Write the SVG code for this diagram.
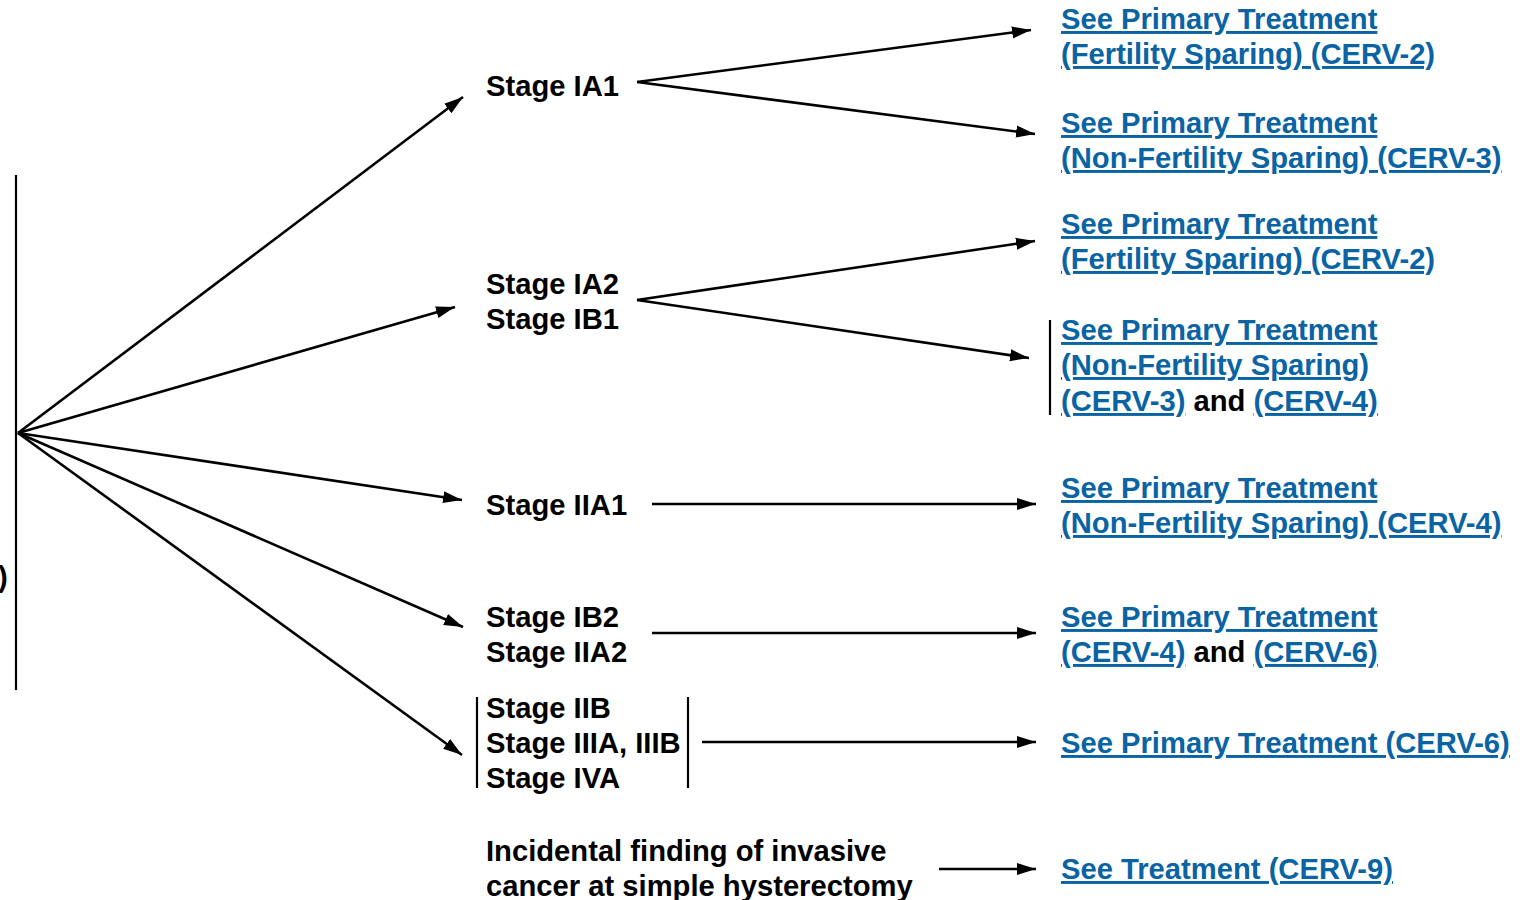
<svg xmlns="http://www.w3.org/2000/svg" width="1529" height="900" viewBox="0 0 1529 900">
<style>
.t{font-family:"Liberation Sans",Arial,sans-serif;font-weight:bold;font-size:29.2px;fill:#000}
.l{font-family:"Liberation Sans",Arial,sans-serif;font-weight:bold;font-size:29.2px;fill:#0a64a4;text-decoration:underline}
.c{stroke:#000;stroke-width:2.6;fill:none}
.b{stroke:#000;stroke-width:2.2;fill:none}
</style>
<defs>
<marker id="ah" markerUnits="userSpaceOnUse" markerWidth="22" markerHeight="14" refX="19" refY="7" orient="auto">
<path d="M0,1 L19,7 L0,13 Z" fill="#000"/>
</marker>
</defs>
<g id="root">
<line class="b" x1="16" y1="175" x2="16" y2="690"/>
<text class="t" x="-2" y="587">)</text>
</g>
<g id="connectors">
<line class="c" x1="18" y1="433" x2="463" y2="97" marker-end="url(#ah)"/>
<line class="c" x1="18" y1="433" x2="455" y2="307" marker-end="url(#ah)"/>
<line class="c" x1="18" y1="433" x2="462" y2="500" marker-end="url(#ah)"/>
<line class="c" x1="18" y1="433" x2="463" y2="627" marker-end="url(#ah)"/>
<line class="c" x1="18" y1="433" x2="462" y2="755" marker-end="url(#ah)"/>
<line class="c" x1="637" y1="82" x2="1031" y2="30" marker-end="url(#ah)"/>
<line class="c" x1="637" y1="82" x2="1035" y2="134" marker-end="url(#ah)"/>
<line class="c" x1="637" y1="300" x2="1035" y2="241" marker-end="url(#ah)"/>
<line class="c" x1="637" y1="300" x2="1029" y2="358" marker-end="url(#ah)"/>
<line class="c" x1="652" y1="504" x2="1036" y2="504" marker-end="url(#ah)"/>
<line class="c" x1="652" y1="633" x2="1036" y2="633" marker-end="url(#ah)"/>
<line class="c" x1="702" y1="742" x2="1036" y2="742" marker-end="url(#ah)"/>
<line class="c" x1="939" y1="869" x2="1036" y2="869" marker-end="url(#ah)"/>
</g>
<g id="stage-ia1"><text class="t" x="486" y="96">Stage IA1</text></g>
<g id="stage-ia2-ib1"><text class="t" x="486" y="294">Stage IA2</text><text class="t" x="486" y="329">Stage IB1</text></g>
<g id="stage-iia1"><text class="t" x="486" y="515">Stage IIA1</text></g>
<g id="stage-ib2-iia2"><text class="t" x="486" y="627">Stage IB2</text><text class="t" x="486" y="662">Stage IIA2</text></g>
<g id="stage-iib-iva">
<line class="b" x1="477" y1="697" x2="477" y2="788"/>
<line class="b" x1="688" y1="697" x2="688" y2="788"/>
<text class="t" x="486" y="718">Stage IIB</text><text class="t" x="486" y="753">Stage IIIA, IIIB</text><text class="t" x="486" y="788">Stage IVA</text>
</g>
<g id="incidental"><text class="t" x="486" y="861">Incidental finding of invasive</text><text class="t" x="486" y="896">cancer at simple hysterectomy</text></g>
<g id="tx-cerv2-a"><text class="l" x="1061" y="29">See Primary Treatment</text><text class="l" x="1061" y="64">(Fertility Sparing) (CERV-2)</text></g>
<g id="tx-cerv3-a"><text class="l" x="1061" y="133">See Primary Treatment</text><text class="l" x="1061" y="168">(Non-Fertility Sparing) (CERV-3)</text></g>
<g id="tx-cerv2-b"><text class="l" x="1061" y="234">See Primary Treatment</text><text class="l" x="1061" y="269">(Fertility Sparing) (CERV-2)</text></g>
<g id="tx-cerv3-4">
<line class="b" x1="1050" y1="320" x2="1050" y2="415"/>
<text class="l" x="1061" y="340">See Primary Treatment</text><text class="l" x="1061" y="375">(Non-Fertility Sparing)</text>
<text x="1061" y="411"><tspan class="l">(CERV-3)</tspan><tspan class="t"> and </tspan><tspan class="l">(CERV-4)</tspan></text>
</g>
<g id="tx-cerv4"><text class="l" x="1061" y="498">See Primary Treatment</text><text class="l" x="1061" y="533">(Non-Fertility Sparing) (CERV-4)</text></g>
<g id="tx-cerv4-6"><text class="l" x="1061" y="627">See Primary Treatment</text><text x="1061" y="662"><tspan class="l">(CERV-4)</tspan><tspan class="t"> and </tspan><tspan class="l">(CERV-6)</tspan></text></g>
<g id="tx-cerv6"><text class="l" x="1061" y="753">See Primary Treatment (CERV-6)</text></g>
<g id="tx-cerv9"><text class="l" x="1061" y="879">See Treatment (CERV-9)</text></g>
</svg>
